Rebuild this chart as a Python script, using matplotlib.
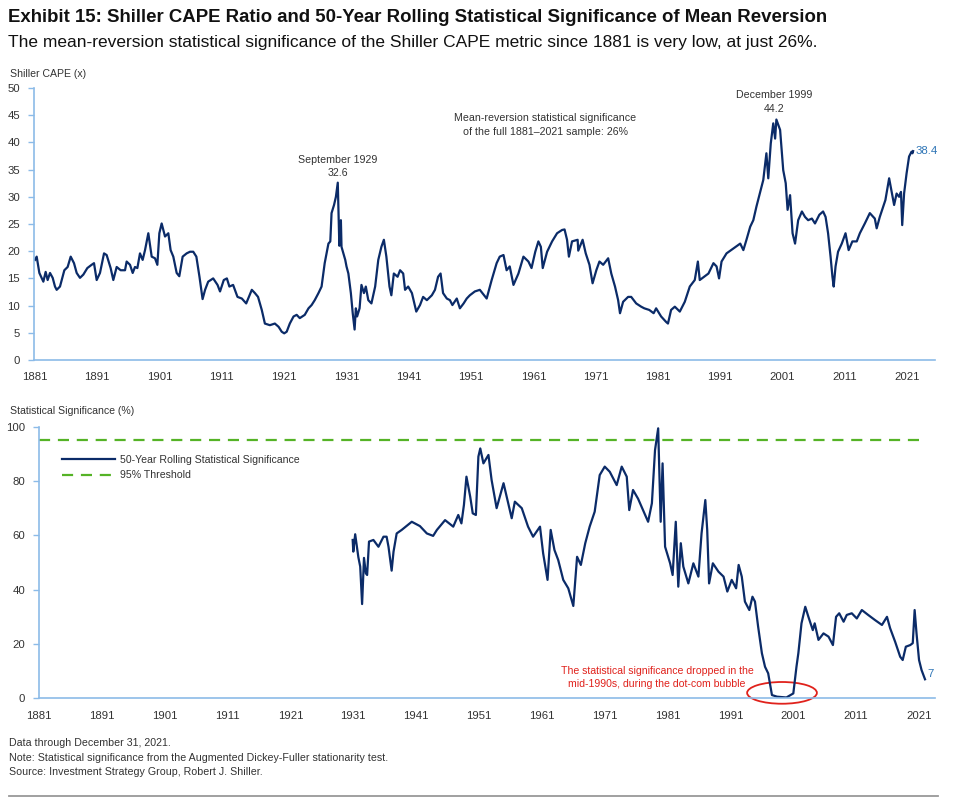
import matplotlib
matplotlib.use("Agg")
import matplotlib.pyplot as plt
from matplotlib import font_manager
from matplotlib.patches import Ellipse
from matplotlib.lines import Line2D

names = {f.name for f in font_manager.fontManager.ttflist}
NARROW = 'Liberation Sans Narrow' if 'Liberation Sans Narrow' in names else 'Liberation Sans'
REG = 'Liberation Sans'

# ---------------- data ----------------
cape_years = [
    1881.0, 1881.27, 1881.7, 1882.34, 1882.71, 1883.03, 1883.41, 1883.84, 1884.21, 1884.48,
    1885.01, 1885.71, 1886.24, 1886.73, 1887.26, 1887.69, 1888.22, 1888.76, 1889.40, 1890.09,
    1890.47, 1890.90, 1891.43, 1892.08, 1892.50, 1893.14, 1893.57, 1894.11, 1894.75, 1895.45,
    1895.71, 1896.25, 1896.68, 1897.05, 1897.43, 1897.85, 1898.28, 1898.66, 1899.19, 1899.73,
    1900.26, 1900.64, 1900.96, 1901.33, 1901.87, 1902.40, 1902.77, 1903.20, 1903.74, 1904.16,
    1904.70, 1905.34, 1905.88, 1906.4, 1906.9, 1907.4, 1907.9, 1908.3, 1908.8, 1909.6,
    1910.3, 1910.7, 1911.3, 1911.8, 1912.2, 1912.8, 1913.5, 1914.2, 1914.9, 1915.8,
    1916.3, 1916.8, 1917.4, 1917.9, 1918.7, 1919.5, 1920.1, 1920.6, 1921.0, 1921.4,
    1921.9, 1922.5, 1923.0, 1923.5, 1924.3, 1924.9, 1925.4, 1925.9, 1926.5, 1927.0,
    1927.5, 1928.1, 1928.4, 1928.6, 1929.0, 1929.3, 1929.6, 1929.85, 1930.1, 1930.2,
    1930.8, 1931.0, 1931.3, 1931.7, 1932.0, 1932.3, 1932.5, 1932.7, 1933.1, 1933.4,
    1933.8, 1934.1, 1934.5, 1935.0, 1935.6, 1936.1, 1936.6, 1937.0, 1937.4, 1937.9,
    1938.2, 1938.6, 1939.2, 1939.6, 1940.1, 1940.4, 1940.9, 1941.5, 1942.2, 1942.8,
    1943.3, 1943.9, 1944.7, 1945.2, 1945.7, 1946.1, 1946.5, 1947.1, 1947.6, 1948.0,
    1948.7, 1949.2, 1949.8, 1950.3, 1950.8, 1951.6, 1952.4, 1953.5, 1954.3, 1955.1,
    1955.6, 1956.2, 1956.7, 1957.2, 1957.8, 1958.6, 1959.4, 1960.2, 1960.7, 1961.3,
    1961.8, 1962.2, 1962.5, 1963.2, 1964.0, 1964.8, 1965.6, 1966.0, 1966.4, 1966.7,
    1967.2, 1968.1, 1968.2, 1968.9, 1969.4, 1970.0, 1970.5, 1971.1, 1971.6, 1972.2,
    1973.0, 1973.5, 1974.1, 1974.6, 1974.9, 1975.4, 1976.2, 1976.7, 1977.5, 1978.3,
    1978.8, 1979.6, 1980.3, 1980.7, 1981.5, 1982.3, 1982.6, 1983.1, 1983.7, 1984.5,
    1985.3, 1986.1, 1986.9, 1987.4, 1987.7, 1988.4, 1989.1, 1989.9, 1990.4, 1990.8,
    1991.2, 1992.0, 1993.1, 1994.2, 1994.7, 1995.2, 1995.8, 1996.3, 1996.8, 1997.4,
    1997.9, 1998.4, 1998.7, 1999.1, 1999.5, 1999.8, 2000.0, 2000.6, 2001.1, 2001.5,
    2001.8, 2002.2, 2002.6, 2003.0, 2003.5, 2004.1, 2004.6, 2005.1, 2005.7, 2006.2,
    2006.9, 2007.5, 2007.9, 2008.3, 2008.7, 2009.0, 2009.2, 2009.5, 2009.9, 2010.5,
    2011.1, 2011.6, 2012.2, 2012.9, 2013.4, 2014.2, 2015.0, 2015.8, 2016.1, 2016.6,
    2017.5, 2018.1, 2018.5, 2018.9, 2019.3, 2019.7, 2020.0, 2020.2, 2020.5, 2020.9,
    2021.3, 2021.7, 2021.85, 2021.95,
]
cape_values = [
    18.4, 19.0, 16.0, 14.4, 16.2, 14.7, 16.0, 15.1, 13.5, 12.9,
    13.5, 16.5, 17.1, 19.0, 17.8, 16.0, 15.1, 15.7, 16.9, 17.5,
    17.8, 14.7, 16.0, 19.6, 19.3, 16.9, 14.7, 17.1, 16.5, 16.5,
    18.1, 17.5, 16.0, 17.1, 16.9, 19.6, 18.4, 20.2, 23.3, 19.0,
    18.7, 17.5, 23.3, 25.1, 22.7, 23.3, 20.2, 19.0, 16.0, 15.4,
    19.0, 19.6, 19.9, 19.9, 19.0, 15.3, 11.2, 12.9, 14.4, 15.0,
    13.8, 12.6, 14.7, 15.0, 13.5, 13.8, 11.6, 11.3, 10.4, 12.9,
    12.3, 11.6, 9.2, 6.7, 6.4, 6.7, 6.1, 5.2, 4.9, 5.2,
    6.7, 8.0, 8.3, 7.7, 8.3, 9.5, 10.1, 11.0, 12.3, 13.5,
    17.8, 21.4, 21.8, 27.0, 28.5, 30.0, 32.6, 21.0, 25.7, 20.8,
    18.4, 17.2, 15.9, 12.3, 8.6, 5.6, 9.5, 8.0, 9.5, 13.8,
    12.3, 13.5, 11.0, 10.4, 13.5, 18.4, 20.8, 22.1, 19.0, 13.5,
    11.9, 15.9, 15.3, 16.5, 15.9, 12.9, 13.5, 12.3, 8.9, 10.1,
    11.6, 11.0, 11.9, 12.9, 15.3, 15.9, 12.3, 11.3, 11.0, 10.1,
    11.3, 9.5, 10.4, 11.3, 11.9, 12.6, 12.9, 11.3, 14.7, 17.8,
    19.0, 19.3, 16.5, 17.2, 13.8, 15.9, 19.0, 18.1, 16.9, 19.9,
    21.8, 20.8, 16.9, 19.9, 21.8, 23.3, 23.9, 24.0, 22.1, 19.0,
    21.8, 22.1, 20.1, 22.1, 19.6, 17.5, 14.1, 16.5, 18.1, 17.5,
    18.7, 15.9, 13.5, 11.0, 8.6, 10.7, 11.6, 11.6, 10.4, 9.8,
    9.5, 9.2, 8.6, 9.5, 8.0, 7.0, 6.7, 9.2, 9.8, 8.9,
    10.7, 13.5, 14.7, 18.1, 14.7, 15.3, 15.9, 17.8, 17.2, 15.0,
    18.1, 19.6, 20.5, 21.4, 20.2, 22.1, 24.5, 25.7, 28.2, 30.9,
    33.1, 38.0, 33.4, 39.8, 43.5, 40.7, 44.2, 42.3, 34.9, 32.5,
    27.6, 30.3, 23.3, 21.4, 25.7, 27.3, 26.3, 25.7, 26.0, 25.1,
    26.7, 27.3, 26.3, 23.3, 19.0, 15.3, 13.5, 17.2, 19.9, 21.4,
    23.3, 20.2, 21.8, 21.8, 23.3, 25.1, 27.0, 26.0, 24.2, 26.3,
    29.4, 33.4, 30.9, 28.5, 30.6, 30.0, 30.9, 24.8, 30.6, 34.3,
    37.4, 38.3, 38.0, 38.4,
]

sig_years = [
    1930.9, 1931.0, 1931.3, 1931.8, 1932.1, 1932.4, 1932.7, 1933.0, 1933.2, 1933.5,
    1934.2, 1935.0, 1935.8, 1936.3, 1936.6, 1937.1, 1937.4, 1937.9, 1938.7, 1940.3,
    1941.6, 1942.7, 1943.7, 1944.3, 1945.6, 1946.9, 1947.7, 1948.2, 1948.6, 1949.0,
    1949.6, 1950.0, 1950.5, 1950.9, 1951.2, 1951.7, 1952.5, 1953.0, 1953.8, 1954.9,
    1955.4, 1956.2, 1956.7, 1957.8, 1958.8, 1959.6, 1960.7, 1961.2, 1961.9, 1962.4,
    1963.0, 1963.6, 1964.4, 1965.2, 1966.0, 1966.6, 1967.2, 1967.9, 1968.6, 1969.4,
    1970.2, 1971.0, 1971.8, 1972.9, 1973.7, 1974.5, 1974.9, 1975.5, 1976.3, 1977.1,
    1977.9, 1978.5, 1979.0, 1979.5, 1979.9, 1980.2, 1980.6, 1981.4, 1981.8, 1982.3,
    1982.7, 1983.1, 1983.5, 1984.3, 1985.1, 1985.9, 1986.4, 1987.0, 1987.3, 1987.6,
    1988.2, 1989.1, 1989.9, 1990.5, 1991.2, 1991.9, 1992.3, 1992.8, 1993.3, 1994.0,
    1994.5, 1994.9, 1995.4, 1996.0, 1996.5, 1997.0, 1997.6, 1998.4, 1999.9, 2001.0,
    2001.5, 2001.8, 2002.3, 2002.9, 2003.4, 2004.1, 2004.4, 2005.0, 2005.8, 2006.6,
    2007.3, 2007.8, 2008.3, 2009.0, 2009.5, 2010.3, 2011.1, 2011.9, 2012.9, 2014.0,
    2015.1, 2015.9, 2016.4, 2017.2, 2018.0, 2018.4, 2018.9, 2019.6, 2020.0, 2020.3,
    2020.6, 2021.0, 2021.4, 2021.8, 2021.95,
]
sig_values = [
    58.3, 54.0, 60.4, 52.0, 48.5, 34.7, 51.7, 46.0, 45.4, 57.7,
    58.3, 55.8, 59.5, 59.5, 55.8, 47.0, 54.0, 60.7, 62.0, 65.0,
    63.4, 60.7, 59.8, 62.0, 65.6, 63.2, 67.5, 64.4, 71.2, 81.6,
    74.2, 68.1, 67.5, 89.0, 92.0, 86.5, 89.6, 80.4, 70.0, 79.2,
    74.2, 66.3, 72.4, 70.0, 63.2, 59.5, 63.2, 53.4, 43.6, 62.0,
    54.6, 50.9, 43.6, 40.5, 34.0, 52.1, 49.1, 57.1, 63.2, 68.7,
    82.2, 85.3, 83.4, 78.5, 85.3, 81.6, 69.3, 76.7, 73.5, 69.3,
    65.0, 71.8, 91.4, 99.4, 65.0, 86.5, 55.8, 49.7, 45.4, 65.0,
    41.1, 57.1, 48.5, 42.3, 49.7, 44.8, 60.7, 73.0, 62.0, 42.3,
    49.7, 46.6, 44.8, 39.3, 43.6, 40.5, 49.1, 44.8, 35.6, 32.5,
    37.4, 35.6, 26.4, 16.6, 11.6, 9.2, 1.2, 0.6, 0.3, 1.8,
    11.6, 16.6, 27.6, 33.7, 30.0, 25.1, 27.6, 21.5, 23.9, 22.7,
    19.6, 30.0, 31.3, 28.2, 30.7, 31.3, 29.4, 32.5, 30.7, 28.8,
    27.0, 30.0, 25.8, 20.8, 15.3, 14.1, 19.0, 19.6, 20.3, 32.5,
    23.9, 14.1, 10.4, 8.0, 7.0,
]

threshold = 95
year_ticks = list(range(1881, 2022, 10))
cape_ticks = list(range(0, 51, 5))
sig_ticks = list(range(0, 101, 20))

# ---------------- styling ----------------
W, H = 959, 805
NAVY = '#0b2b68'
AXBLUE = '#8cbbe8'
GREEN = '#55b326'
LBLUE = '#2e75b6'
RED = '#e0221c'
TXT = '#333333'

def fx(x):
    return x / W

def fy(y):
    return 1 - y / H

fig = plt.figure(figsize=(W / 100, H / 100), dpi=100)

def style_axes(ax):
    for s in ['top', 'right']:
        ax.spines[s].set_visible(False)
    for s in ['left', 'bottom']:
        ax.spines[s].set_color(AXBLUE)
        ax.spines[s].set_linewidth(1.2)
    ax.tick_params(axis='y', direction='out', length=4, width=1, color=AXBLUE,
                   pad=6, labelsize=8.2, labelcolor=TXT)
    ax.tick_params(axis='x', length=0, pad=9, labelsize=8.2, labelcolor=TXT)
    for lab in ax.get_xticklabels() + ax.get_yticklabels():
        lab.set_family(NARROW)

# ---- top axes ----
ax1 = fig.add_axes([fx(34), fy(360), fx(935 - 34), (360 - 88) / H])
ax1.plot(cape_years, cape_values, color=NAVY, lw=1.6, solid_joinstyle='round')
ax1.set_xlim(1881 - 1 / 6.23, 1881 - 1 / 6.23 + 901 / 6.23)
ax1.set_ylim(0, 50)
ax1.set_xticks(year_ticks)
ax1.set_yticks(cape_ticks)
style_axes(ax1)

ANN = 7.7
txt_kw = dict(family=NARROW, fontsize=ANN, color=TXT, ha='center', va='bottom', linespacing=1.45)
ax1.text(1929.6, 33.4, 'September 1929\n32.6', **txt_kw)
ax1.text(1999.6, 45.3, 'December 1999\n44.2', **txt_kw)
ax1.text(1962.9, 41.0, 'Mean-reversion statistical significance\nof the full 1881\u20132021 sample: 26%', **txt_kw)
ax1.text(2022.3, 38.5, '38.4', family=NARROW, fontsize=8.2, color=LBLUE, ha='left', va='center')

# ---- bottom axes ----
ax2 = fig.add_axes([fx(39), fy(698.3), fx(935 - 39), (698.3 - 426.7) / H])
ax2.plot(sig_years, sig_values, color=NAVY, lw=1.6, solid_joinstyle='round',
         label='50-Year Rolling Statistical Significance')
ax2.plot([1881, 2021.6], [threshold, threshold], color=GREEN, lw=1.6,
         dashes=(5, 3.5), label='95% Threshold')
ax2.set_xlim(1881, 1881 + 896 / 6.286)
ax2.set_ylim(0, 100)
ax2.set_xticks(year_ticks)
ax2.set_yticks(sig_ticks)
style_axes(ax2)

leg = ax2.legend(loc='upper left', bbox_to_anchor=((62 - 39) / 896, (698.3 - 454.5) / 271.6),
                 frameon=False, borderaxespad=0, borderpad=0, handlelength=5.0,
                 handletextpad=0.45, labelspacing=0.55,
                 prop={'family': NARROW, 'size': 7.6})
for t in leg.get_texts():
    t.set_color(TXT)

ax2.text(2022.4, 8.9, '7', family=NARROW, fontsize=8.2, color=LBLUE, ha='left', va='center')
ax2.text(1979.3, 3.4, 'The statistical significance dropped in the\nmid-1990s, during the dot-com bubble',
         family=NARROW, fontsize=7.6, color=RED, ha='center', va='bottom', linespacing=1.4)
ax2.add_patch(Ellipse((1999.2, 2.0), 11.1, 8.0, fill=False, edgecolor=RED, lw=1.3, clip_on=False))

# ---- figure texts ----
fig.text(fx(8), fy(17), 'Exhibit 15: Shiller CAPE Ratio and 50-Year Rolling Statistical Significance of Mean Reversion',
         family=REG, fontsize=13.4, fontweight='bold', color='#111111', ha='left', va='center')
fig.text(fx(8), fy(42), 'The mean-reversion statistical significance of the Shiller CAPE metric since 1881 is very low, at just 26%.',
         family=REG, fontsize=12.5, color='#111111', ha='left', va='center')
fig.text(fx(10), fy(74), 'Shiller CAPE (x)', family=NARROW, fontsize=7.6, color=TXT, ha='left', va='center')
fig.text(fx(10), fy(411), 'Statistical Significance (%)', family=NARROW, fontsize=7.6, color=TXT, ha='left', va='center')

foot_kw = dict(family=NARROW, fontsize=7.7, color=TXT, ha='left', va='center')
fig.text(fx(9), fy(742.5), 'Data through December 31, 2021.', **foot_kw)
fig.text(fx(9), fy(757.5), 'Note: Statistical significance from the Augmented Dickey-Fuller stationarity test.', **foot_kw)
fig.text(fx(9), fy(772), 'Source: Investment Strategy Group, Robert J. Shiller.', **foot_kw)
fig.add_artist(Line2D([fx(9), fx(938)], [fy(795.5), fy(795.5)], color='#999999', lw=1.3))

fig.savefig('out.png', dpi=100)
